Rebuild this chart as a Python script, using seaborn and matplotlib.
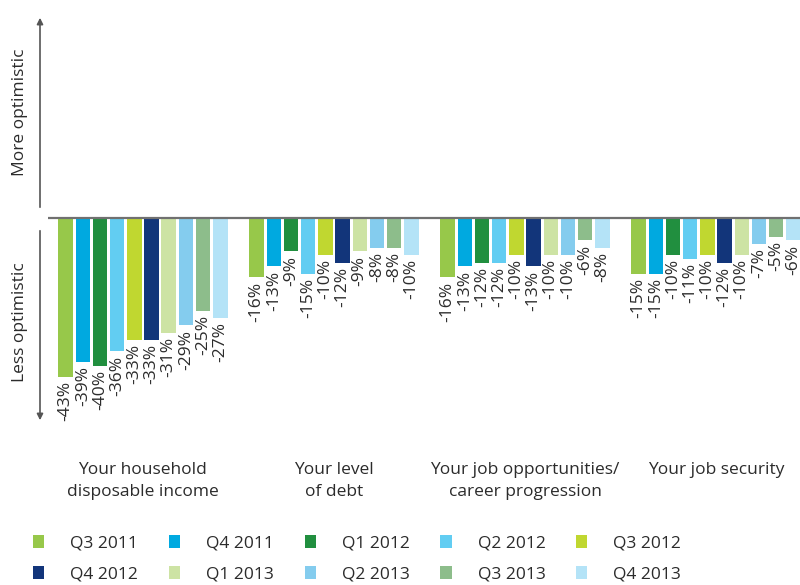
import matplotlib
matplotlib.use("Agg")
import matplotlib.pyplot as plt
from matplotlib.patches import FancyArrowPatch
import pandas as pd
import seaborn as sns

categories = [
    "Your household\ndisposable income",
    "Your level\nof debt",
    "Your job opportunities/\ncareer progression",
    "Your job security",
]
quarters = ["Q3 2011", "Q4 2011", "Q1 2012", "Q2 2012", "Q3 2012",
            "Q4 2012", "Q1 2013", "Q2 2013", "Q3 2013", "Q4 2013"]

household_income = [-43, -39, -40, -36, -33, -33, -31, -29, -25, -27]
level_of_debt = [-16, -13, -9, -15, -10, -12, -9, -8, -8, -10]
job_opportunities = [-16, -13, -12, -12, -10, -13, -10, -10, -6, -8]
job_security = [-15, -15, -10, -11, -10, -12, -10, -7, -5, -6]

colors = ["#97C84A", "#00A9E0", "#218F3F", "#62CDF2", "#C0D730",
          "#12357A", "#CDE3A4", "#84CCEE", "#8DBD8B", "#B4E3F7"]

series = [household_income, level_of_debt, job_opportunities, job_security]
rows = []
for cat, vals in zip(categories, series):
    for q, v in zip(quarters, vals):
        rows.append({"category": cat, "quarter": q, "value": v})
df = pd.DataFrame(rows)

sns.set_theme(style="white")
plt.rcParams["font.family"] = ["Open Sans", "DejaVu Sans"]
FS = 12.5
TXT = "#2b2b2b"

fig = plt.figure(figsize=(8, 5.85), dpi=100)
ax = fig.add_axes([0.06, 0.277, 0.94, 0.697])

sns.barplot(data=df, x="category", y="value", hue="quarter",
            order=categories, hue_order=quarters, palette=colors,
            width=0.9, gap=0.16, saturation=1, ax=ax, legend=True,
            linewidth=0)

for cont in ax.containers:
    ax.bar_label(cont, fmt="{:.0f}%", rotation=90, padding=3,
                 fontsize=FS, color=TXT)

ax.set_xlim(-0.497, 3.440)
ax.set_ylim(-55.4, 54.9)
ax.axhline(0, color="#707070", lw=1.6, zorder=3)
for s in ax.spines.values():
    s.set_visible(False)
ax.set_xticks([])
ax.set_yticks([])
ax.set_xlabel("")
ax.set_ylabel("")

# category names under each group
trans = matplotlib.transforms.blended_transform_factory(ax.transData, fig.transFigure)
for i, cat in enumerate(categories):
    ax.text(i, 0.211, cat, transform=trans, ha="center", va="top",
            multialignment="center", fontsize=FS, color=TXT, linespacing=1.55)

# direction arrows on the left
W, H = 800, 585
def fx(px):
    return px / W
def fy(py):
    return (H - py) / H

for y0, y1 in [(210, 15), (228, 423)]:
    arr = FancyArrowPatch((fx(40), fy(y0)), (fx(40), fy(y1)),
                          transform=fig.transFigure, arrowstyle="-|>",
                          mutation_scale=9, color="#555555", lw=1.2)
    fig.add_artist(arr)

fig.text(fx(20), fy(112), "More optimistic", rotation=90, ha="center",
         va="center", fontsize=FS, color=TXT)
fig.text(fx(20), fy(322), "Less optimistic", rotation=90, ha="center",
         va="center", fontsize=FS, color=TXT)

# legend in two rows, filled row by row
handles, labels = ax.get_legend_handles_labels()
ax.get_legend().remove()
order = [0, 5, 1, 6, 2, 7, 3, 8, 4, 9]
fig.legend([handles[i] for i in order], [labels[i] for i in order],
           ncol=5, loc="upper left", bbox_to_anchor=(fx(33), fy(535)),
           frameon=False, fontsize=FS, handlelength=0.65, handleheight=0.75,
           handletextpad=1.5, columnspacing=1.76, labelspacing=0.85,
           borderpad=0, borderaxespad=0, labelcolor=TXT)

fig.savefig("out.png", dpi=100)
